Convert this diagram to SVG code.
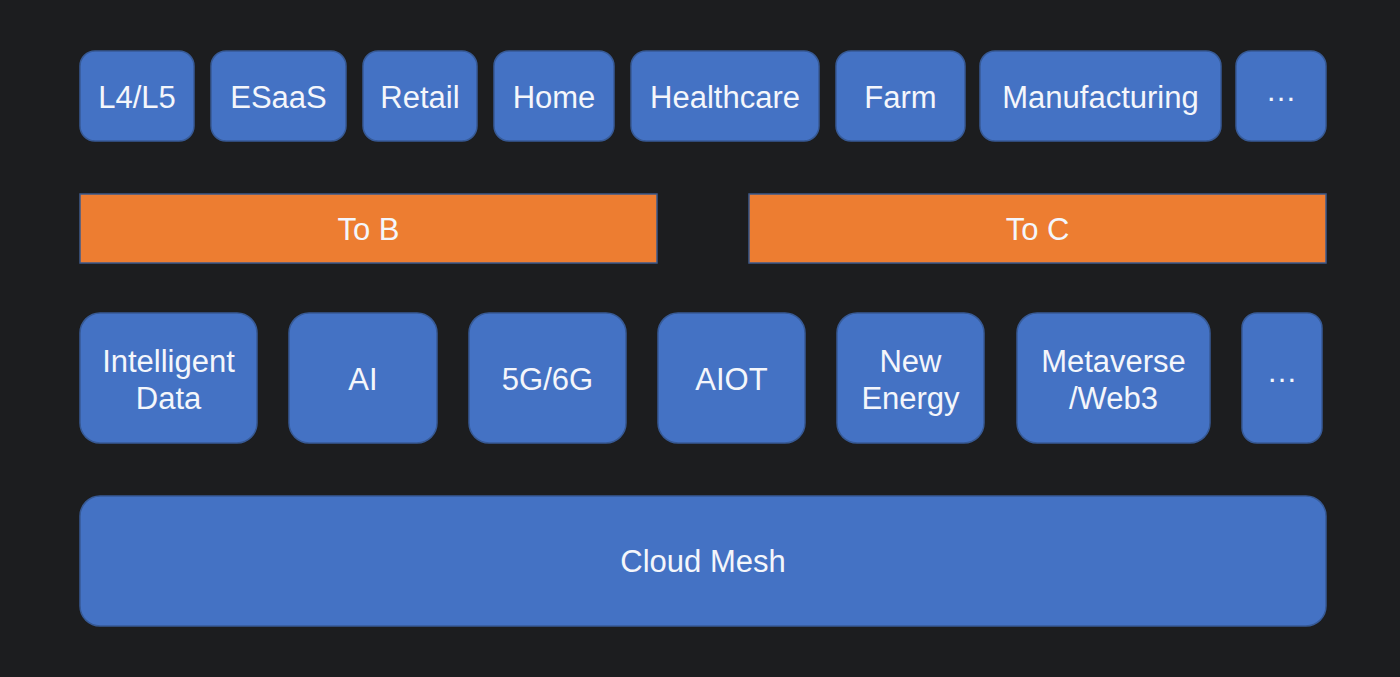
<svg xmlns="http://www.w3.org/2000/svg" width="1400" height="677" viewBox="0 0 1400 677">
<style>
.b{fill:#4472c4;stroke:#375a96;stroke-width:1.5}
.o{fill:#ed7d31;stroke:#3d5a8c;stroke-width:1.5}
.t{font-family:"Liberation Sans",Arial,sans-serif;font-size:31px;fill:#f4f6fb;text-anchor:middle}
</style>
<rect width="1400" height="677" fill="#1c1d1f"/>
<g id="n-l4l5"><rect class="b" x="80" y="51" width="114" height="90" rx="15"/><text class="t" x="137" y="108">L4/L5</text></g>
<g id="n-esaas"><rect class="b" x="211" y="51" width="135" height="90" rx="15"/><text class="t" x="278.5" y="108">ESaaS</text></g>
<g id="n-retail"><rect class="b" x="363" y="51" width="114" height="90" rx="15"/><text class="t" x="420" y="108">Retail</text></g>
<g id="n-home"><rect class="b" x="494" y="51" width="120" height="90" rx="15"/><text class="t" x="554" y="108">Home</text></g>
<g id="n-healthcare"><rect class="b" x="631" y="51" width="188" height="90" rx="15"/><text class="t" x="725" y="108">Healthcare</text></g>
<g id="n-farm"><rect class="b" x="836" y="51" width="129" height="90" rx="15"/><text class="t" x="900.5" y="108">Farm</text></g>
<g id="n-manufacturing"><rect class="b" x="980" y="51" width="241" height="90" rx="15"/><text class="t" x="1100.5" y="108">Manufacturing</text></g>
<g id="n-more1"><rect class="b" x="1236" y="51" width="90" height="90" rx="15"/><text class="t" x="1281" y="101">…</text></g>
<g id="n-tob"><rect class="o" x="80" y="194" width="577" height="69"/><text class="t" x="368.5" y="240">To B</text></g>
<g id="n-toc"><rect class="o" x="749" y="194" width="577" height="69"/><text class="t" x="1037.5" y="240">To C</text></g>
<g id="n-intdata"><rect class="b" x="80" y="313" width="177" height="130" rx="20"/><text class="t" x="168.5" y="372">Intelligent</text><text class="t" x="168.5" y="409">Data</text></g>
<g id="n-ai"><rect class="b" x="289" y="313" width="148" height="130" rx="20"/><text class="t" x="363" y="390">AI</text></g>
<g id="n-5g"><rect class="b" x="469" y="313" width="157" height="130" rx="20"/><text class="t" x="547.5" y="390">5G/6G</text></g>
<g id="n-aiot"><rect class="b" x="658" y="313" width="147" height="130" rx="20"/><text class="t" x="731.5" y="390">AIOT</text></g>
<g id="n-energy"><rect class="b" x="837" y="313" width="147" height="130" rx="20"/><text class="t" x="910.5" y="372">New</text><text class="t" x="910.5" y="409">Energy</text></g>
<g id="n-metaverse"><rect class="b" x="1017" y="313" width="193" height="130" rx="20"/><text class="t" x="1113.5" y="372">Metaverse</text><text class="t" x="1113.5" y="409">/Web3</text></g>
<g id="n-more2"><rect class="b" x="1242" y="313" width="80" height="130" rx="15"/><text class="t" x="1282" y="382">…</text></g>
<g id="n-cloudmesh"><rect class="b" x="80" y="496" width="1246" height="130" rx="20"/><text class="t" x="703" y="572">Cloud Mesh</text></g>
<g id="connectors"></g>
</svg>
